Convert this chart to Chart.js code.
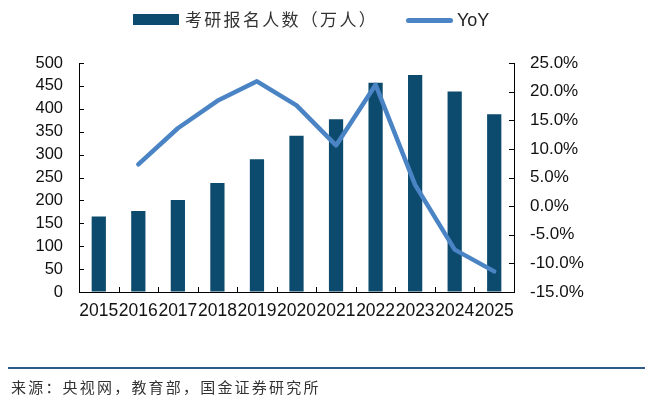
<!DOCTYPE html>
<html><head><meta charset="utf-8">
<script src="https://cdn.jsdelivr.net/npm/chart.js@4.4.1/dist/chart.umd.min.js"></script>
<style>
html,body{margin:0;padding:0;background:#fff;}
#wrap{position:relative;width:655px;height:399px;overflow:hidden;}
#c{position:absolute;left:0;top:0;}
.sw-bar{position:absolute;left:133px;top:14px;width:46px;height:11px;background:#0c4a6e;}
.t1{position:absolute;left:185px;top:7px;font-family:"Noto Sans CJK SC",sans-serif;font-size:17px;letter-spacing:2.3px;color:#333;line-height:24px;}
.sw-line{position:absolute;left:406px;top:18px;width:47px;height:5px;border-radius:3px;background:#4a84c4;}
.t2{position:absolute;left:457px;top:7px;font-family:"Liberation Sans",sans-serif;font-size:18px;color:#222;line-height:26px;}
.rule{position:absolute;left:8px;top:367px;width:637px;height:2px;background:#2d5a87;}
.src{position:absolute;left:11px;top:376px;font-family:"Noto Sans CJK SC",sans-serif;font-size:15px;letter-spacing:2.2px;color:#333;line-height:22px;}
</style></head>
<body><div id="wrap">
<canvas id="c" width="655" height="399"></canvas>
<div class="sw-bar"></div><div class="t1">考研报名人数（万人）</div>
<div class="sw-line"></div><div class="t2">YoY</div>
<div class="rule"></div>
<div class="src">来源：央视网，教育部，国金证券研究所</div>
</div>
<script>
const years = ["2015","2016","2017","2018","2019","2020","2021","2022","2023","2024","2025"];
const applicants = [164.9, 177, 201, 238, 290, 341, 377, 457, 474, 438, 388];
const yoy = [null, 7.3, 13.6, 18.4, 21.8, 17.6, 10.6, 21.2, 3.7, -7.6, -11.4];
const leftTicks = [0,50,100,150,200,250,300,350,400,450,500];
const rightTicks = [-15,-10,-5,0,5,10,15,20,25];

const inwardTicks = {
  id:'inwardTicks',
  afterDraw(chart){
    const ctx = chart.ctx, ca = chart.chartArea;
    const y = chart.scales.y, y1 = chart.scales.y1, x = chart.scales.x;
    ctx.save();
    ctx.strokeStyle = '#000'; ctx.lineWidth = 1;
    ctx.beginPath();
    leftTicks.forEach(v=>{const p=Math.round(y.getPixelForValue(v))+0.5; ctx.moveTo(ca.left,p); ctx.lineTo(ca.left+5,p);});
    rightTicks.forEach(v=>{const p=Math.round(y1.getPixelForValue(v))+0.5; ctx.moveTo(ca.right-5,p); ctx.lineTo(ca.right,p);});
    const step = x.getPixelForTick(1)-x.getPixelForTick(0);
    for(let i=0;i<=years.length;i++){
      const p = Math.round(x.getPixelForTick(0) - step/2 + i*step)+0.5;
      ctx.moveTo(p,ca.bottom); ctx.lineTo(p,ca.bottom-5);
    }
    ctx.stroke();
    ctx.restore();
  }
};

new Chart(document.getElementById('c'), {
  type:'bar',
  data:{
    labels: years,
    datasets:[
      {type:'line', label:'YoY', data:yoy, yAxisID:'y1', borderColor:'#4a84c4', backgroundColor:'#4a84c4', borderWidth:4.5, pointRadius:0, tension:0, order:0, borderCapStyle:'round', borderJoinStyle:'round'},
      {type:'bar', label:'考研报名人数（万人）', data:applicants, yAxisID:'y', backgroundColor:'#0c4a6e', categoryPercentage:1, barPercentage:0.36, order:1}
    ]
  },
  options:{
    responsive:false, animation:false,
    layout:{padding:{left:0, right:0, top:63, bottom:77}},
    plugins:{legend:{display:false}, tooltip:{enabled:false}},
    scales:{
      x:{
        grid:{display:true, drawOnChartArea:false, drawTicks:false},
        border:{display:true, color:'#000', width:1},
        ticks:{font:{family:"Liberation Sans", size:17.5}, color:'#111', padding:9, autoSkip:false, maxRotation:0, minRotation:0},
        afterFit(s){ s.height = 30; }
      },
      y:{
        position:'left', min:0, max:500,
        grid:{display:true, drawOnChartArea:false, drawTicks:false},
        border:{display:true, color:'#000', width:1},
        ticks:{font:{family:"Liberation Sans", size:16.5}, color:'#111', padding:16, stepSize:50},
        afterFit(s){ s.width = 79; }
      },
      y1:{
        position:'right', min:-15, max:25,
        grid:{display:true, drawOnChartArea:false, drawTicks:false},
        border:{display:true, color:'#000', width:1},
        ticks:{font:{family:"Liberation Sans", size:17}, color:'#111', padding:16, stepSize:5, callback:v=>v.toFixed(1)+'%'},
        afterFit(s){ s.width = 141; }
      }
    }
  },
  plugins:[inwardTicks]
});
</script>
</body></html>
